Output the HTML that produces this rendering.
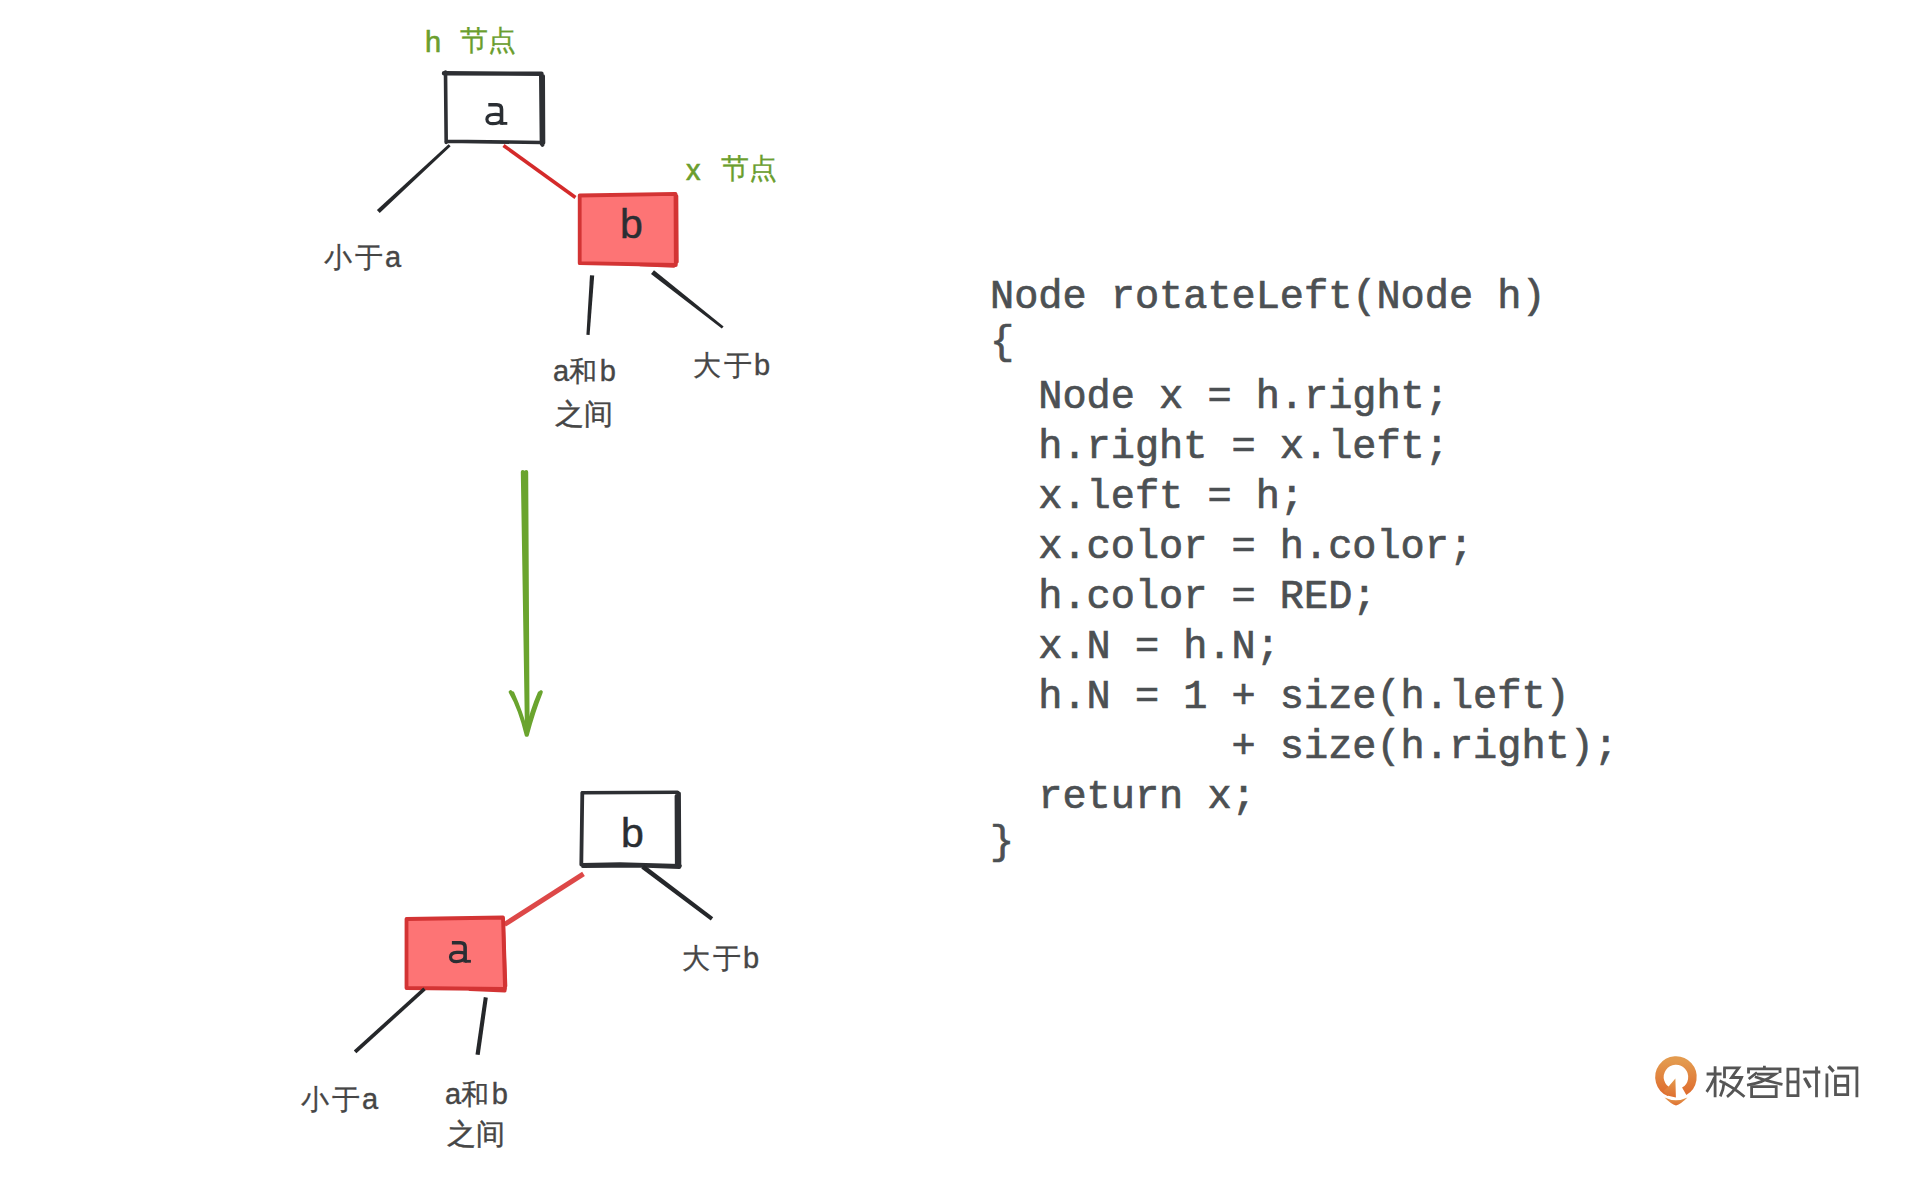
<!DOCTYPE html>
<html><head><meta charset="utf-8">
<style>
html,body{margin:0;padding:0;background:#fff;}
body{width:1920px;height:1178px;position:relative;overflow:hidden;font-family:"Liberation Sans",sans-serif;}
svg{position:absolute;left:0;top:0;}
.t{position:absolute;white-space:pre;line-height:1;}
.g{color:#6b9e2e;font-size:29px;-webkit-text-stroke:0.6px #6b9e2e;}
.cj{font-size:27.5px;-webkit-text-stroke:0.3px currentColor;}
.ls{letter-spacing:2.5px;}
.lb{color:#464646;font-size:29px;-webkit-text-stroke:0.4px #464646;}
.nd{color:#2a2e33;font-size:41px;-webkit-text-stroke:0.5px #2a2e33;}
.br{position:relative;top:-4px;}
.code{position:absolute;left:990px;top:272px;font-family:"Liberation Mono",monospace;font-size:40.25px;line-height:50px;color:#4c5053;white-space:pre;-webkit-text-stroke:0.7px #4c5053;}
</style></head><body>
<svg width="1920" height="1178" viewBox="0 0 1920 1178">
  <g fill="none" stroke-linecap="round" stroke-linejoin="round">
    <!-- top box a -->
    <path d="M444 73.3 L541.5 73.8" stroke="#2d2f33" stroke-width="4.4"/>
    <path d="M445.5 72 L446.2 142.5 M540.8 75 L541.5 144 M543.2 76 L543.5 143 M446 141.2 L541 142.5 L542.5 145" stroke="#2d2f33" stroke-width="3.6"/>
    <!-- red line a-b top -->
    <path d="M503.5 145.5 L575.5 197.5" stroke="#d42a2a" stroke-width="3.5" stroke-linecap="butt"/>
    <!-- box b red -->
    <path d="M579.7 195.5 L675.5 193.8 L675.8 265 L579.7 263.2 Z" fill="#fd7475" stroke="#d33434" stroke-width="3.8"/>
    <path d="M676.8 196 L677.2 262 M640 264.8 L674 266.2" stroke="#d33434" stroke-width="3"/>
    <!-- black lines top tree -->
    <polygon points="448.6,144.3 376.9,210.0 379.7,213.0 450.6,146.3" fill="#25272a"/>
    <polygon points="590.0,275.2 586.4,334.7 589.6,334.9 594.2,275.4" fill="#25272a"/>
    <polygon points="651.0,274.1 721.8,328.6 723.6,326.4 654.0,270.3" fill="#25272a"/>
    <!-- green arrow -->
    <path d="M522.8 472 L527 733 M526.2 472 L527.6 730" stroke="#6aa42e" stroke-width="4"/>
    <path d="M510.5 692 Q520 708 526.5 735 M512.5 693 Q521 712 527 734 M541 692 Q533 712 527 735 M539.5 693 Q532 710 526.5 733" stroke="#6aa42e" stroke-width="3.6"/>
    <!-- bottom box b -->
    <path d="M582.5 792.8 L677.5 792.3" stroke="#2d2f33" stroke-width="3.6"/>
    <path d="M582.3 793 L581.3 864.5 M676.5 796 L676.8 864 M679 793.5 L679.4 865.5 M582 864.8 L620 864.2 L680 865.8 M583 866.2 L640 865.5 L679.5 867" stroke="#2d2f33" stroke-width="3.8"/>
    <!-- red line bottom -->
    <path d="M504.5 924.5 L583.5 873.8" stroke="#dd4848" stroke-width="5" stroke-linecap="butt"/>
    <!-- bottom box a red -->
    <path d="M406.5 919 L503 917.5 L505 989 L406.5 988 Z" fill="#fd7475" stroke="#d33434" stroke-width="3.8"/>
    <path d="M503.5 919 L505.8 986 M470 989.5 L505 991" stroke="#d33434" stroke-width="3"/>
    <!-- black lines bottom -->
    <polygon points="641.3,868.5 710.8,920.5 713.2,917.3 644.1,864.7" fill="#25272a"/>
    <polygon points="423.3,987.6 353.8,1050.4 356.4,1053.2 425.7,990.2" fill="#25272a"/>
    <polygon points="483.8,997.1 475.5,1054.4 479.7,1055.0 487.8,997.7" fill="#25272a"/>
  </g>
  <defs><g id="ga"><path d="M3 1.8 H11.6 Q16.2 1.8 16.2 6.2 V21.7" fill="none" stroke="#2a2e33" stroke-width="3.6"/><path d="M16.2 12.2 C13.5 11.4 10.5 11.3 8 11.5 C4 11.8 1.6 13.7 1.6 16.2 C1.6 18.9 4 20.7 7.5 20.7 C11.5 20.7 14.6 19.2 16.2 16.8" fill="none" stroke="#2a2e33" stroke-width="3.2"/><rect x="16" y="19" width="6" height="2.8" fill="#2a2e33"/></g></defs>
  <use href="#ga" x="485.3" y="103"/>
  <use href="#ga" x="448.9" y="940.9"/>
  <!-- logo icon -->
  <defs>
    <linearGradient id="lg" x1="0" y1="0" x2="0" y2="1">
      <stop offset="0" stop-color="#e39a4e"/>
      <stop offset="1" stop-color="#df6f30"/>
    </linearGradient>
  </defs>
  <g fill="url(#lg)">
    <path d="M1684.2 1091.3 A16.5 16.5 0 1 0 1669.5 1092.2" fill="none" stroke="url(#lg)" stroke-width="8.5"/>
    <path d="M1668.6 1086.4 L1675.4 1078.6 L1675.9 1097.4 L1667 1095.5 L1663.5 1091 Z"/>
    <path d="M1664.5 1097.5 Q1676 1103 1687.5 1097.5 Q1681 1104 1676 1105.5 Q1671 1104 1664.5 1097.5 Z"/>
  </g>
  <g fill="none" stroke="#555" stroke-width="2.8" stroke-linecap="butt">
    <!-- 极 -->
    <path d="M1706.6 1074 H1721.6 M1715.1 1066.2 V1097.2 M1714.5 1077.5 Q1711 1086 1706.6 1091.8"/>
    <path d="M1723.2 1067.9 H1738.7 L1731.6 1077.5 H1741.6 Q1737 1089 1727 1096.8 M1724.5 1067.9 V1078.3 M1724.2 1081.5 Q1723.5 1090 1720.3 1096.3 M1719.5 1080.8 Q1733 1087 1744.5 1096.8"/>
    <!-- 客 -->
    <path d="M1748.5 1073.5 V1068.9 H1780 V1073 M1764.4 1065.8 V1069"/>
    <path d="M1757 1072.5 L1748.7 1079 M1757 1074.2 H1775.3 Q1763 1083 1747 1085.2 M1754.9 1076.7 Q1768 1081.5 1782.5 1084.4"/>
    <path d="M1751.6 1086.7 H1776.2 V1096.7 H1751.6 Z"/>
    <!-- 时 -->
    <path d="M1787.9 1069.1 H1798 V1095.6 H1787.9 Z M1787.9 1081.8 H1798"/>
    <path d="M1802.9 1072 H1820.3 M1816.5 1066.4 V1097.2"/>
    <path d="M1804.6 1077.8 L1810.2 1087.7" stroke-width="3.4"/>
    <!-- 间 -->
    <path d="M1826.9 1073.6 V1097.2 M1837.2 1068 H1856.9 V1097.2"/>
    <path d="M1828.6 1066.1 L1833.6 1071.6" stroke-width="3.2"/>
    <path d="M1835.5 1076.2 H1847.7 V1094.7 H1835.5 Z M1835.5 1085.3 H1847.7"/>
  </g>
</svg>

<div class="t g" style="left:425px;top:28px;">h</div>
<div class="t g cj" style="left:460px;top:27px;letter-spacing:-0.5px;">节点</div>
<div class="t g" style="left:686px;top:156px;">x</div>
<div class="t g cj" style="left:721px;top:155px;letter-spacing:-0.5px;">节点</div>

<div class="t nd" style="left:620px;top:204px;">b</div>
<div class="t nd" style="left:621px;top:813px;">b</div>

<div class="t lb" style="left:324px;top:243px;"><span class="cj ls">小于</span>a</div>
<div class="t lb" style="left:553px;top:357px;">a<span class="cj ls">和</span>b</div>
<div class="t lb cj" style="left:555px;top:400px;">之间</div>
<div class="t lb" style="left:693px;top:351px;"><span class="cj ls">大于</span>b</div>

<div class="t lb" style="left:301px;top:1085px;"><span class="cj ls">小于</span>a</div>
<div class="t lb" style="left:445px;top:1080px;">a<span class="cj ls">和</span>b</div>
<div class="t lb cj" style="left:447px;top:1120px;">之间</div>
<div class="t lb" style="left:682px;top:944px;"><span class="cj ls">大于</span>b</div>

<div class="code">Node rotateLeft(Node h)
<span class="br">{</span>
  Node x = h.right;
  h.right = x.left;
  x.left = h;
  x.color = h.color;
  h.color = RED;
  x.N = h.N;
  h.N = 1 + size(h.left)
          + size(h.right);
  return x;
<span class="br">}</span></div>

</body></html>
